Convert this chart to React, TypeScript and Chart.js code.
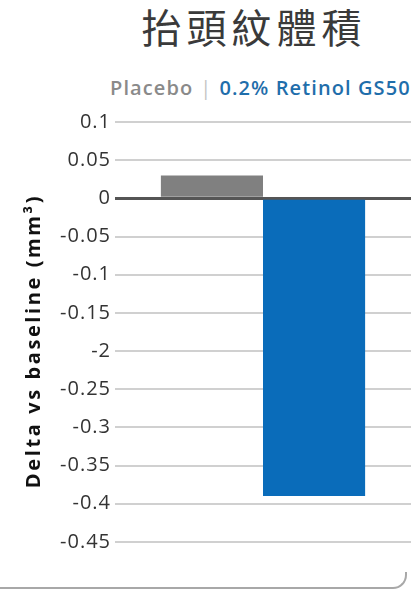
import React, { useEffect, useRef } from "react";
import { Chart, registerables } from "chart.js";

Chart.register(...registerables);

const categories = ["抬頭紋體積"];
const seriesNames = ["Placebo", "0.2% Retinol GS50"];
const placeboValues = [0.03];
const retinolValues = [-0.39];
const tickValues = [0.1, 0.05, 0, -0.05, -0.1, -0.15, -0.2, -0.25, -0.3, -0.35, -0.4, -0.45];
const tickLabels = ["0.1", "0.05", "0", "-0.05", "-0.1", "-0.15", "-2", "-0.25", "-0.3", "-0.35", "-0.4", "-0.45"];
const yTitle = "Delta vs baseline (mm³)";

const GRAY = "#808080";
const BLUE = "#0a6cba";

const spacingPlugin = {
  id: "letterSpacing",
  beforeDraw(chart: any) {
    chart.ctx.letterSpacing = "1px";
  },
  afterDraw(chart: any) {
    chart.ctx.letterSpacing = "0px";
  },
};

export default function App() {
  const canvasRef = useRef<HTMLCanvasElement | null>(null);

  useEffect(() => {
    document.body.style.margin = "0";
    const canvas = canvasRef.current;
    if (!canvas) return;
    const chart = new Chart(canvas, {
      type: "bar",
      data: {
        labels: categories,
        datasets: [
          {
            label: seriesNames[0],
            data: placeboValues,
            backgroundColor: GRAY,
            categoryPercentage: 0.69,
            barPercentage: 1,
          },
          {
            label: seriesNames[1],
            data: retinolValues,
            backgroundColor: BLUE,
            categoryPercentage: 0.69,
            barPercentage: 1,
          },
        ],
      },
      plugins: [spacingPlugin],
      options: {
        animation: false,
        responsive: false,
        maintainAspectRatio: false,
        layout: { padding: { top: 0, bottom: 0, left: 0, right: 0 } },
        plugins: {
          legend: { display: false },
          tooltip: { enabled: false },
          title: { display: false },
        },
        scales: {
          x: { display: false },
          y: {
            min: -0.5,
            max: 0.1,
            afterBuildTicks: (axis: any) => {
              axis.ticks = tickValues.map((v) => ({ value: v }));
            },
            afterFit: (axis: any) => {
              axis.width = 115;
              if (!axis._spacedTitle) {
                const orig = axis.drawTitle.bind(axis);
                axis.drawTitle = () => {
                  const c = axis.ctx;
                  const prev = c.letterSpacing;
                  c.save();
                  c.translate(0, -10);
                  c.letterSpacing = "2.6px";
                  orig();
                  c.restore();
                  c.letterSpacing = prev;
                };
                axis._spacedTitle = true;
              }
            },
            border: { display: false },
            grid: {
              drawTicks: false,
              color: (ctx: any) => (ctx.tick && ctx.tick.value === 0 ? "#555555" : "#d0d0d0"),
              lineWidth: (ctx: any) => (ctx.tick && ctx.tick.value === 0 ? 3 : 2),
            },
            ticks: {
              padding: 4,
              color: "#333333",
              font: { family: "'Open Sans', sans-serif", size: 20 },
              callback: (_v: any, i: number) => tickLabels[i],
            },
            title: {
              display: true,
              text: yTitle,
              color: "#111111",
              font: { family: "'Open Sans', sans-serif", size: 20, weight: "bold" },
              padding: { top: 22, bottom: 0 },
            },
          },
        },
      },
    });
    return () => chart.destroy();
  }, []);

  return (
    <div
      style={{
        position: "relative",
        width: 411,
        height: 592,
        overflow: "hidden",
        background: "#ffffff",
      }}
    >
      <div
        style={{
          position: "absolute",
          left: 3,
          width: 502,
          top: 2,
          textAlign: "center",
          fontFamily: "'Noto Sans CJK TC', sans-serif",
          fontSize: 40,
          letterSpacing: 5,
          color: "#3a3a3a",
          lineHeight: "48px",
        }}
      >
        {categories[0]}
      </div>
      <div
        style={{
          position: "absolute",
          left: 110,
          top: 74,
          whiteSpace: "nowrap",
          fontFamily: "'Open Sans', sans-serif",
          fontWeight: 600,
          fontSize: 20,
          letterSpacing: 1.1,
          lineHeight: "28px",
        }}
      >
        <span style={{ color: "#8a8a8a" }}>{seriesNames[0]}</span>
        <span style={{ color: "#c4c4c4", fontWeight: 400, margin: "0 7px" }}>|</span>
        <span style={{ color: "#1f6eab" }}>{seriesNames[1]}</span>
      </div>
      <canvas
        ref={canvasRef}
        width={411}
        height={490}
        style={{ position: "absolute", left: 0, top: 106, width: 411, height: 490 }}
      />
      <div
        style={{
          position: "absolute",
          left: -20,
          width: 425,
          top: 572,
          height: 15,
          borderBottom: "2px solid #a8a8a8",
          borderRight: "2px solid #a8a8a8",
          borderBottomRightRadius: 14,
        }}
      />
    </div>
  );
}
